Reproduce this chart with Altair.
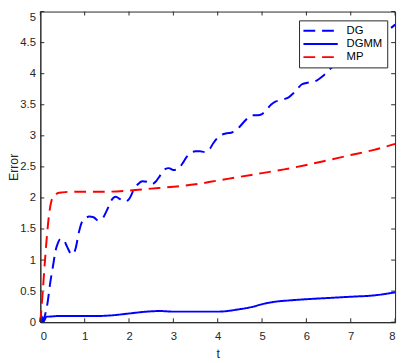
import altair as alt
import pandas as pd

series_names = ["DG", "DGMM", "MP"]
series_colors = ["#0000ff", "#0000ff", "#ff0000"]

dg_t = [0, 0.05, 0.1, 0.16, 0.22, 0.28, 0.35, 0.4, 0.45, 0.52, 0.6, 0.67, 0.73, 0.8,
        0.87, 0.93, 1.0, 1.1, 1.2, 1.3, 1.4, 1.5, 1.6, 1.7, 1.8, 1.9, 2.0, 2.1, 2.2,
        2.3, 2.4, 2.5, 2.6, 2.7, 2.8, 2.9, 3.0, 3.1, 3.2, 3.3, 3.4, 3.5, 3.6, 3.7,
        3.8, 3.9, 4.0, 4.1, 4.2, 4.3, 4.4, 4.5, 4.6, 4.7, 4.8, 4.9, 5.0, 5.1, 5.2,
        5.3, 5.4, 5.5, 5.6, 5.7, 5.8, 5.9, 6.0, 6.2, 6.4, 6.6, 6.8, 7.0, 7.2, 7.4,
        7.6, 7.8, 8.0]
dg_v = [0.0, 0.03, 0.1, 0.3, 0.62, 0.88, 1.17, 1.28, 1.34, 1.33, 1.22, 1.12, 1.09, 1.2,
        1.45, 1.6, 1.66, 1.7, 1.69, 1.64, 1.67, 1.8, 1.96, 2.02, 1.98, 1.94, 1.98, 2.12, 2.22,
        2.27, 2.26, 2.22, 2.26, 2.36, 2.46, 2.48, 2.45, 2.46, 2.55, 2.66, 2.73, 2.75, 2.75, 2.74,
        2.77, 2.88, 2.97, 3.02, 3.04, 3.05, 3.08, 3.15, 3.23, 3.3, 3.33, 3.33, 3.35, 3.42, 3.5,
        3.55, 3.57, 3.59, 3.62, 3.68, 3.76, 3.83, 3.85, 3.88, 3.98, 4.12, 4.25, 4.35, 4.42, 4.5,
        4.6, 4.68, 4.79]

dgmm_t = [0, 0.02, 0.07, 0.14, 0.2, 0.4, 0.7, 1.0, 1.3, 1.6, 2.0, 2.4, 2.7, 3.0, 3.5,
          4.0, 4.5, 4.8, 5.0, 5.3, 5.6, 6.0, 6.5, 7.0, 7.5, 8.0]
dgmm_v = [0.0, 0.1, 0.01, 0.09, 0.09, 0.1, 0.1, 0.1, 0.1, 0.11, 0.14, 0.17, 0.18, 0.17, 0.17,
          0.17, 0.21, 0.25, 0.29, 0.33, 0.35, 0.37, 0.39, 0.41, 0.43, 0.48]

mp_t = [0, 0.05, 0.1, 0.15, 0.2, 0.25, 0.3, 0.35, 0.4, 0.5, 0.7, 1.0, 1.5, 2.0, 2.5,
        3.0, 3.5, 4.0, 4.5, 5.0, 5.5, 6.0, 6.5, 7.0, 7.5, 8.0]
mp_v = [0.0, 0.45, 0.95, 1.4, 1.75, 1.95, 2.03, 2.06, 2.08, 2.09, 2.1, 2.1, 2.1, 2.12, 2.15,
        2.18, 2.22, 2.28, 2.34, 2.4, 2.46, 2.53, 2.61, 2.69, 2.77, 2.87]

x_ticks = [0, 1, 2, 3, 4, 5, 6, 7, 8]
y_ticks = [0, 0.5, 1, 1.5, 2, 2.5, 3, 3.5, 4, 4.5, 5]

rows = []
for name, ts, vs in [("DG", dg_t, dg_v), ("DGMM", dgmm_t, dgmm_v), ("MP", mp_t, mp_v)]:
    for t, v in zip(ts, vs):
        rows.append({"series": name, "t": t, "v": v})
df = pd.DataFrame(rows)

W, H = 362, 317
FONT = "Liberation Sans"
AX = "#262626"
TICK = 4

x_scale = alt.Scale(domain=[0, 8], nice=False, zero=False)
y_scale = alt.Scale(domain=[0, 5], nice=False, zero=False)

x_axis = alt.Axis(values=x_ticks, title="t", ticks=False, tickSize=0,
                  labelPadding=9, grid=False, labelOverlap=False,
                  titleBaseline="alphabetic", titleY=36.5, titleX=W / 2)
y_axis = alt.Axis(values=y_ticks, format="~g", title="Error", ticks=False,
                  tickSize=0, labelPadding=5, grid=False, labelOverlap=False,
                  labelSeparation=0,
                  labelBaseline={"condition": {"test": "datum.value == 5",
                                               "value": "top"},
                                 "value": "middle"},
                  titleBaseline="alphabetic", titleX=-23, titleY=H / 2,
                  titleAngle=-90, titleAlign="center")

legend = alt.Legend(
    title=None, orient="none", legendX=264, legendY=9,
    symbolType="M-1.2,0H5.8", symbolSize=100, symbolStrokeWidth=2,
    labelOffset=32, labelFont=FONT, labelFontSize=11.5, labelColor="#000000",
    padding=4.5, rowPadding=1.5, fillColor="#ffffff", strokeColor=AX,
)

lines = alt.Chart(df).mark_line(strokeWidth=2, interpolate="monotone").encode(
    x=alt.X("t:Q", scale=x_scale, axis=x_axis),
    y=alt.Y("v:Q", scale=y_scale, axis=y_axis),
    color=alt.Color("series:N", scale=alt.Scale(domain=series_names, range=series_colors),
                    legend=legend),
    strokeDash=alt.StrokeDash("series:N",
                              scale=alt.Scale(domain=series_names,
                                              range=[[12, 7], [1, 0], [12, 7]]),
                              legend=legend),
)

xt = pd.DataFrame({"t": x_ticks})
yt = pd.DataFrame({"v": y_ticks})

bottom_ticks = alt.Chart(xt).mark_rule(color=AX, strokeWidth=1).encode(
    x=alt.X("t:Q", scale=x_scale, axis=x_axis), y=alt.value(H), y2=alt.value(H - TICK))
top_ticks = alt.Chart(xt).mark_rule(color=AX, strokeWidth=1).encode(
    x=alt.X("t:Q", scale=x_scale, axis=x_axis), y=alt.value(0), y2=alt.value(TICK))
left_ticks = alt.Chart(yt).mark_rule(color=AX, strokeWidth=1).encode(
    y=alt.Y("v:Q", scale=y_scale, axis=y_axis), x=alt.value(0), x2=alt.value(TICK))
right_ticks = alt.Chart(yt).mark_rule(color=AX, strokeWidth=1).encode(
    y=alt.Y("v:Q", scale=y_scale, axis=y_axis), x=alt.value(W), x2=alt.value(W - TICK))

chart = alt.layer(lines, bottom_ticks, top_ticks, left_ticks, right_ticks).properties(
    width=W, height=H,
    autosize=alt.AutoSizeParams(type="none"),
    padding={"left": 33, "top": 0, "right": 4, "bottom": 38},
    background="#ffffff",
).configure_view(
    stroke=AX, strokeWidth=1
).configure_axis(
    domainColor=AX, domainWidth=1, labelFont=FONT, labelFontSize=11.5, labelColor=AX,
    titleFont=FONT, titleFontSize=12.5, titleFontWeight="normal", titleColor=AX,
    labelOverlap=False,
)

chart.save("out.html", embed_options={"renderer": "svg", "actions": False})
